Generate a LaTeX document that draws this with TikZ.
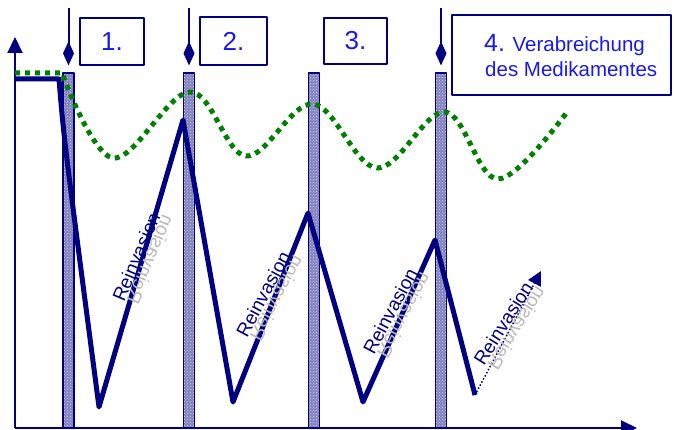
\documentclass[tikz,border=0pt]{standalone}
\usepackage{fontspec}
\setmainfont{Liberation Sans}
\usetikzlibrary{arrows.meta,patterns}
\definecolor{navy}{RGB}{0,0,128}
\definecolor{numblue}{RGB}{25,25,235}
\definecolor{dotgreen}{RGB}{0,128,0}
\definecolor{shade}{RGB}{185,185,185}
\newcommand{\mirrortext}[1]{\scalebox{1}[-1]{#1}}
\begin{document}
\begin{tikzpicture}[x=1pt, y=-1pt, line join=round,
  numbox/.style={draw=navy, line width=1.5pt, inner sep=0pt, font=\fontsize{26}{26}\selectfont, text=numblue},
  bar/.style={draw=navy, line width=1.2pt, preaction={fill=navy!50}, pattern=crosshatch dots, pattern color=white!85!navy, minimum width=11pt, minimum height=355pt, inner sep=0pt},
  dose/.style={navy, line width=2pt, -{Diamond[length=24pt,width=11pt]}},
  axis/.style={navy, line width=2pt, -{Triangle[length=16pt,width=15pt]}},
  reinv/.style={rotate=#1, anchor=base west, inner sep=0pt, font=\fontsize{19}{19}\selectfont, text=navy},
  mirrored/.style={rotate=#1, anchor=base west, inner sep=0pt, font=\fontsize{19}{19}\selectfont, text=shade}]
\useasboundingbox (0,0) rectangle (675,430);
% Axes
\coordinate (o) at (15,428);
\coordinate (ytop) at (15,37);
\coordinate (xend) at (637,428);
\draw[axis] (o) -- (ytop);
\draw[axis] (o) -- (xend);
% Doses
\begin{scope}
\node[bar] (p1) at (68.5,250.5) {};
\node[bar] (p2) at (189,250.5) {};
\node[bar] (p3) at (314,250.5) {};
\node[bar] (p4) at (441,250.5) {};
\end{scope}
% Parasites
\coordinate (b0) at (15,79);
\coordinate (b1) at (59,79);
\coordinate (b2) at (99,407);
\coordinate (b3) at (183,120);
\coordinate (b4) at (233,402);
\coordinate (b5) at (308,213);
\coordinate (b6) at (363,402);
\coordinate (b7) at (435,240);
\coordinate (b8) at (475,395);
\coordinate (tip) at (541,271);
\draw[navy, line width=5pt] (b0) -- (b1) .. controls (64,140) .. (b2) -- (b3) -- (b4) -- (b5) -- (b6) -- (b7) -- (b8);
\draw[navy, line width=1.5pt, dotted, -{Triangle[length=14pt,width=14pt]}] (b8) -- (tip);
% Drug level
\coordinate (g0) at (15,73);
\coordinate (g1) at (62,73);
\coordinate (g2) at (113,158);
\coordinate (g3) at (190,92);
\coordinate (g4) at (246,156);
\coordinate (g5) at (313,104);
\coordinate (g6) at (377,168);
\coordinate (g7) at (445,112);
\coordinate (g8) at (498,179);
\coordinate (g9) at (567,112);
\draw[dotgreen, line width=5pt, dash pattern=on 5pt off 5pt] (g0) -- plot[smooth, tension=.6] coordinates {(g1) (g2) (g3) (g4) (g5) (g6) (g7) (g8) (g9)};
% Arrows and boxes
\coordinate (a1) at (68.5,8);
\coordinate (a2) at (189,8);
\coordinate (a4) at (441,8);
\draw[dose] (a1) -- ([yshift=7pt]p1.north);
\draw[dose] (a2) -- ([yshift=7pt]p2.north);
\draw[dose] (a4) -- ([yshift=7pt]p4.north);
\node[numbox, minimum width=64pt, minimum height=47pt] (n1) at (112,41.5) {1.};
\node[numbox, minimum width=67pt, minimum height=48pt] (n2) at (233.5,41) {2.};
\node[numbox, minimum width=63pt, minimum height=46pt] (n3) at (355.5,41) {3.};
\node[numbox, minimum width=219pt, minimum height=80pt] (n4) at (561.5,55) {};
\node[anchor=base west, inner sep=0pt, text=numblue, font=\fontsize{20.5}{20.5}\selectfont] (t4a) at (484,52) {{\fontsize{25}{25}\selectfont 4.} Verabreichung};
\node[anchor=base west, inner sep=0pt, text=numblue, font=\fontsize{20.5}{20.5}\selectfont] (t4b) at (485,77) {des Medikamentes};
% Labels
\node[mirrored=67] (s1) at (126,300.6) {\mirrortext{Reinvasion}};
\node[reinv=67] (r1) at (124,303) {Reinvasion};
\node[mirrored=62] (s2) at (249.3,336.9) {\mirrortext{Reinvasion}};
\node[reinv=62] (r2) at (247,339) {Reinvasion};
\node[mirrored=62] (s3) at (376.3,353.9) {\mirrortext{Reinvasion}};
\node[reinv=62] (r3) at (374,356) {Reinvasion};
\node[mirrored=58] (s4) at (486.5,365) {\mirrortext{Reinvasion}};
\node[reinv=58] (r4) at (484,367) {Reinvasion};
\end{tikzpicture}
\end{document}
